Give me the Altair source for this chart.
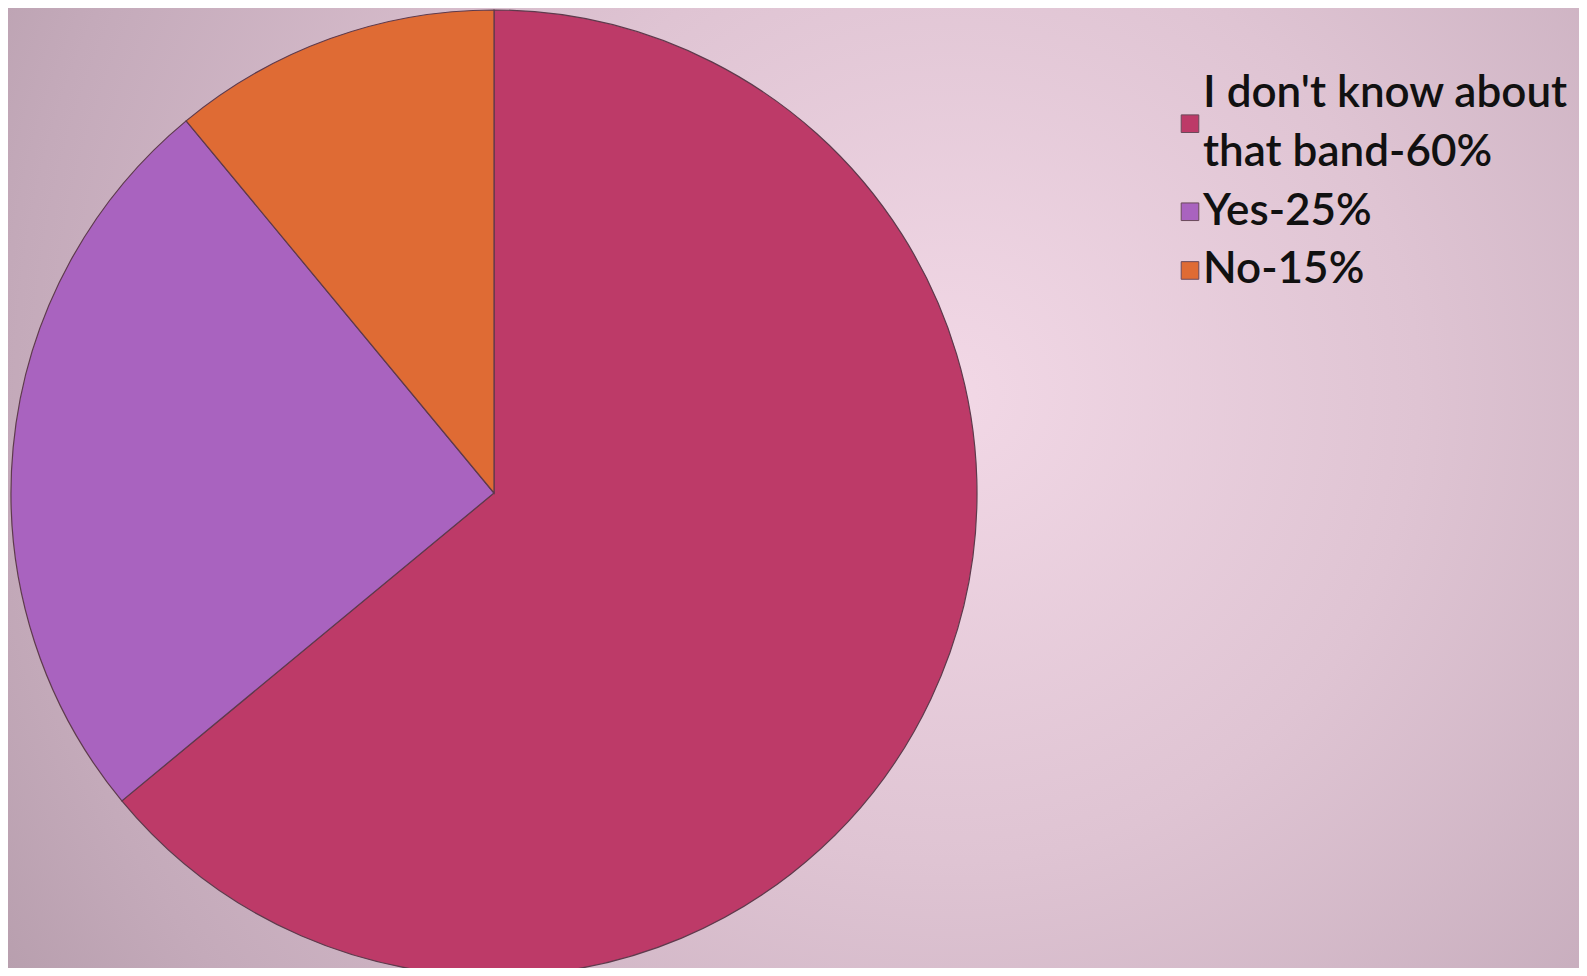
import altair as alt
import pandas as pd

# ---- data ----
categories = ["I don't know about that band", "Yes", "No"]
shares = [64, 25, 11]                       # slice sizes as drawn
slice_colors = ["#BD3A68", "#A963BF", "#DF6B34"]
legend_labels = ["I don't know about\nthat band-60%", "Yes-25%", "No-15%"]

W, H = 1571, 960

pie_df = pd.DataFrame({"category": categories, "share": shares,
                       "order": list(range(len(categories)))})

nlines = pd.Series([lbl.count("\n") + 1 for lbl in legend_labels])
cum = nlines.cumsum()
leg_df = pd.DataFrame({"category": categories, "label": legend_labels,
                       "slot": cum - nlines / 2,          # centre of the entry
                       "first": cum - nlines + 0.5})      # centre of its first line

color_scale = alt.Scale(domain=categories, range=slice_colors)

bg = alt.Chart(pd.DataFrame({"a": [0]})).mark_rect(
    fill=alt.RadialGradient(
        gradient="radial",
        stops=[alt.GradientStop(color="#F2D8E6", offset=0),
               alt.GradientStop(color="#DFC4D3", offset=0.35),
               alt.GradientStop(color="#C4AABA", offset=0.7),
               alt.GradientStop(color="#A8909E", offset=1)],
        x1=0.6, y1=0.44, r1=0, x2=0.6, y2=0.44, r2=0.85),
).encode(x=alt.value(0), x2=alt.value(W), y=alt.value(0), y2=alt.value(H))

pie = alt.Chart(pie_df).mark_arc(
    outerRadius=483, stroke="#5E3A4C", strokeWidth=1.2
).encode(
    theta=alt.Theta("share:Q", stack=True),
    order=alt.Order("order:Q"),
    color=alt.Color("category:N", scale=color_scale, legend=None),
    x=alt.value(486), y=alt.value(485),
)

yscale = alt.Scale(domain=[0, 10], range=[57, 644])

squares = alt.Chart(leg_df).mark_square(
    size=310, opacity=1, stroke="#6A4A5A", strokeWidth=1
).encode(
    x=alt.value(1182),
    y=alt.Y("slot:Q", scale=yscale, axis=None),
    color=alt.Color("category:N", scale=color_scale, legend=None),
)

texts = alt.Chart(leg_df).mark_text(
    align="left", baseline="middle", font="Lato", fontSize=44,
    lineBreak="\n", lineHeight=58.7, color="#111111", fontWeight=600
).encode(
    x=alt.value(1195),
    y=alt.Y("first:Q", scale=yscale, axis=None),
    text="label:N",
)

chart = alt.layer(bg, pie, squares, texts).resolve_scale(y="shared").properties(
    width=W, height=H, padding=0, autosize=alt.AutoSizeParams(type="none"),
    background="#B89FAE",
).configure_view(stroke=None)

chart.save("out.html", embed_options={"renderer": "svg", "actions": False})
